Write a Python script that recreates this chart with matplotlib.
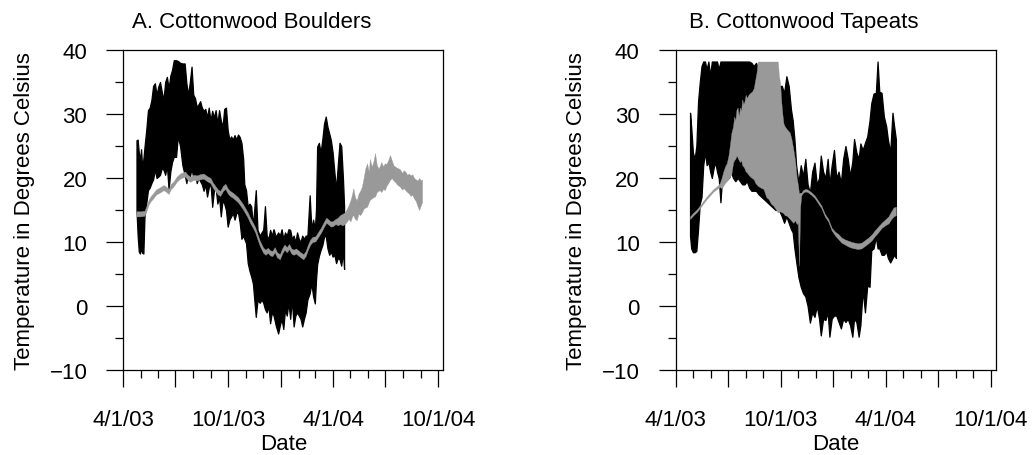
import numpy as np
import matplotlib
matplotlib.use("Agg")
import matplotlib.pyplot as plt
import matplotlib.dates as mdates

plt.rcParams['font.family'] = ['Liberation Sans', 'DejaVu Sans']

START = np.datetime64('2003-04-01')

# ---- A. Cottonwood Boulders -------------------------------------------
# air temperature envelope: day offset from 4/1/03, daily high, daily low
a_air_day = [23, 25, 27, 29, 31, 33, 35, 37, 40, 43, 46, 49, 52, 55, 58, 61, 64, 67, 70, 73,
             76, 79, 82, 85, 88, 92, 95, 99, 103, 107, 110, 113, 116, 119, 122, 125, 128, 131,
             134, 137, 140, 143, 146, 149, 152, 155, 158, 161, 164, 167, 170, 173, 176, 179,
             182, 185, 188, 191, 194, 197, 200, 203, 206, 209, 211, 214, 217, 220, 223, 226,
             231, 234, 238, 241, 244, 247, 250, 253, 256, 259, 262, 266, 270, 273, 276, 279,
             282, 285, 288, 291, 294, 297, 300, 303, 306, 309, 312, 315, 318, 321, 325, 328,
             331, 334, 336, 338, 341, 344, 347, 350, 353, 356, 359, 362, 365, 368, 371, 374,
             377, 380, 383, 385]
a_air_high = [25.9, 26.0, 24.0, 22.8, 24.5, 21.5, 23.0, 24.9, 27.5, 30.6, 31.0, 32.2, 34.4, 34.8,
              33.0, 34.3, 35.0, 33.5, 32.2, 35.0, 35.8, 34.0, 36.0, 36.9, 38.4, 38.4, 38.3, 38.0,
              37.9, 37.9, 34.8, 33.0, 35.0, 37.4, 33.0, 32.5, 31.1, 31.5, 32.0, 31.0, 30.5, 30.8,
              29.5, 31.0, 29.0, 30.5, 29.5, 30.6, 28.5, 30.6, 29.0, 28.0, 30.8, 31.0, 27.5, 26.0,
              26.5, 26.0, 26.7, 26.0, 26.8, 26.4, 25.5, 23.0, 19.0, 18.1, 15.5, 16.0, 15.6, 12.5,
              18.1, 11.9, 11.0, 11.5, 11.9, 15.6, 11.0, 10.5, 11.9, 11.0, 12.0, 10.8, 11.5, 11.0,
              12.0, 10.5, 11.5, 11.0, 12.0, 11.9, 10.5, 11.0, 10.0, 11.5, 10.5, 10.0, 11.0, 10.5,
              11.0, 11.0, 17.3, 12.0, 13.5, 12.0, 15.0, 24.9, 25.5, 24.0, 26.0, 28.5, 29.6, 28.0,
              27.0, 25.9, 24.0, 21.0, 18.3, 22.0, 25.5, 25.0, 20.0, 15.6]
a_air_low = [15.0, 11.0, 8.5, 8.2, 9.0, 8.3, 8.2, 14.0, 16.0, 18.1, 18.5, 19.2, 19.8, 21.3, 20.0,
             20.2, 20.5, 21.5, 21.3, 20.5, 22.0, 18.1, 21.0, 22.5, 23.3, 23.3, 26.5, 25.0, 22.0,
             20.5, 19.2, 21.0, 20.2, 21.5, 20.0, 21.0, 19.2, 20.0, 19.5, 19.0, 18.0, 19.0, 17.1,
             18.5, 19.2, 15.5, 18.0, 18.5, 16.0, 17.0, 14.0, 16.5, 16.0, 15.0, 12.4, 13.5, 14.0,
             14.5, 13.5, 14.5, 14.6, 13.0, 10.5, 11.0, 10.5, 9.8, 6.7, 5.5, 4.6, 3.5, -1.7, 0.9,
             0.5, 1.0, 0.5, -0.5, -1.0, 0.0, -2.7, -1.0, -1.5, -3.1, -4.3, -3.0, -2.0, -3.6,
             -0.5, -1.5, 0.5, -2.0, 1.0, -3.2, -1.5, -1.0, -1.5, -2.0, -3.2, -2.0, -1.0, 1.0,
             2.0, 3.5, 1.5, 0.4, 4.0, 6.5, 7.8, 8.75, 9.5, 10.8, 11.0, 9.0, 8.0, 8.5, 7.7, 8.0,
             6.7, 7.5, 7.3, 6.3, 8.5, 5.8]

# water temperature band: day offset, low, high
a_water_day = [23, 30, 37, 41, 44, 48, 52, 57, 61, 65, 70, 74, 79, 83, 87, 93, 99, 104, 108, 113,
               117, 122, 128, 134, 140, 146, 152, 156, 160, 165, 169, 174, 178, 182, 186, 191,
               195, 200, 204, 208, 212, 217, 221, 226, 230, 234, 238, 244, 248, 252, 256, 260,
               264, 268, 273, 277, 281, 285, 289, 293, 297, 301, 305, 309, 314, 318, 322, 326,
               330, 335, 340, 345, 350, 354, 358, 362, 366, 370, 374, 378, 382, 386, 390, 393,
               396, 399, 401, 404, 407, 410, 413, 416, 419, 422, 425, 428, 430, 433, 436, 439,
               442, 445, 447, 450, 453, 456, 459, 462, 465, 468, 471, 474, 477, 480, 483, 486,
               489, 492, 495, 498, 501, 504, 507, 510, 513, 516, 519, 521]
a_water_low = [14.0, 14.0, 14.1, 15.0, 15.8, 16.4, 16.8, 17.4, 17.6, 17.8, 18.1, 17.9, 17.5, 18.3,
               18.6, 19.4, 19.9, 20.1, 20.2, 19.6, 19.4, 19.7, 19.6, 19.8, 19.9, 19.5, 19.2, 18.5,
               18.0, 17.4, 17.2, 18.0, 18.3, 17.6, 17.2, 16.9, 16.6, 16.2, 15.7, 15.2, 14.6, 13.8,
               13.0, 12.2, 11.5, 10.4, 9.4, 8.3, 8.0, 8.3, 7.9, 7.8, 8.4, 7.6, 7.3, 8.2, 8.8, 8.4,
               8.9, 8.2, 8.0, 8.2, 7.9, 7.6, 7.3, 7.8, 8.8, 9.6, 10.0, 10.1, 10.8, 11.5, 12.4,
               13.0, 12.7, 12.4, 12.5, 12.8, 12.6, 12.8, 12.6, 12.8, 13.2, 13.6, 13.2, 14.0, 14.2,
               13.6, 13.4, 14.4, 14.2, 14.6, 15.2, 15.4, 15.5, 16.2, 16.6, 16.8, 17.0, 17.1, 17.8,
               18.0, 18.1, 17.8, 18.3, 18.1, 18.8, 19.2, 19.7, 20.0, 19.6, 19.4, 19.0, 18.8, 18.6,
               18.2, 18.4, 18.1, 17.8, 17.6, 17.2, 17.4, 16.8, 16.4, 15.6, 15.0, 15.8, 16.2]
a_water_high = [14.8, 14.8, 14.9, 15.8, 16.6, 17.2, 17.6, 18.2, 18.4, 18.6, 18.9, 18.7, 18.3, 19.1,
                19.4, 20.2, 20.7, 20.9, 21.0, 20.4, 20.2, 20.5, 20.4, 20.6, 20.7, 20.3, 20.0, 19.3,
                18.8, 18.2, 18.0, 18.8, 19.1, 18.4, 18.0, 17.7, 17.4, 17.0, 16.5, 16.0, 15.4, 14.6,
                13.8, 13.0, 12.3, 11.2, 10.2, 9.1, 8.8, 9.1, 8.7, 8.6, 9.2, 8.4, 8.1, 9.0, 9.6, 9.2,
                9.7, 9.0, 8.8, 9.0, 8.7, 8.4, 8.1, 8.6, 9.6, 10.4, 10.8, 10.9, 11.6, 12.3, 13.2,
                13.8, 13.5, 13.2, 13.3, 13.6, 13.8, 14.2, 14.4, 14.6, 15.2, 15.8, 16.5, 17.5, 18.4,
                17.0, 16.5, 17.5, 18.0, 18.6, 20.0, 21.5, 22.3, 21.0, 23.0, 21.8, 22.5, 23.9, 22.0,
                21.5, 21.8, 22.5, 21.8, 22.3, 22.2, 22.8, 23.6, 22.8, 22.0, 21.8, 21.6, 21.5, 21.3,
                20.8, 21.2, 21.0, 20.5, 20.7, 20.4, 20.6, 20.0, 19.8, 19.6, 20.0, 19.6, 19.8]

# ---- B. Cottonwood Tapeats --------------------------------------------
b_air_day = [25, 27, 30, 33, 36, 39, 42, 45, 48, 51, 54, 57, 60, 63, 66, 69, 72, 75, 78, 81, 84,
             87, 90, 93, 96, 100, 104, 108, 112, 116, 120, 124, 128, 132, 136, 140, 144, 150,
             156, 162, 168, 174, 180, 185, 189, 193, 197, 201, 204, 207, 210, 214, 218, 222,
             226, 230, 234, 238, 242, 246, 250, 253, 257, 261, 265, 268, 272, 276, 280, 284,
             288, 292, 296, 300, 304, 308, 311, 315, 319, 322, 326, 330, 334, 338, 341, 345,
             349, 352, 355, 359, 363, 367, 370, 374, 378, 381, 384]
b_air_high = [30.2, 28.0, 24.0, 23.0, 25.0, 32.0, 35.0, 37.5, 38.2, 38.2, 37.0, 38.2, 36.0, 38.2,
              38.2, 38.2, 38.2, 37.0, 38.2, 38.2, 38.2, 38.2, 38.2, 38.2, 38.2, 38.2, 38.2, 38.2,
              38.2, 38.2, 38.2, 38.2, 38.2, 38.0, 37.5, 38.0, 37.0, 36.0, 36.0, 35.0, 35.0, 34.0,
              34.4, 34.4, 33.3, 35.9, 34.4, 30.7, 29.0, 26.1, 22.0, 19.3, 22.0, 20.3, 23.0, 19.0,
              17.7, 21.0, 22.4, 19.0, 20.0, 23.5, 21.0, 20.0, 23.0, 19.0, 22.0, 24.4, 20.0, 21.0,
              19.2, 23.0, 25.0, 23.0, 20.3, 22.6, 26.1, 24.0, 23.0, 25.4, 24.4, 25.5, 26.5, 29.0,
              31.7, 33.2, 33.3, 38.2, 33.5, 33.3, 29.6, 28.1, 26.0, 24.0, 30.2, 28.0, 26.0]
b_air_low = [11.0, 9.0, 8.4, 8.4, 8.6, 12.0, 16.0, 17.0, 22.0, 24.0, 22.0, 22.5, 21.0, 20.0, 21.5,
             22.5, 21.0, 20.0, 16.2, 20.0, 19.5, 21.0, 20.0, 20.0, 21.0, 20.0, 19.5, 20.0, 19.5,
             19.0, 19.0, 19.5, 18.5, 18.0, 18.0, 18.0, 17.5, 17.0, 16.5, 16.0, 15.5, 15.0, 15.0,
             14.0, 13.0, 14.0, 13.0, 12.0, 11.5, 9.0, 7.0, 4.5, 3.0, 2.0, 1.5, 0.0, -2.6, -1.0,
             -1.7, 0.0, -2.0, -4.6, -2.0, -2.2, -1.0, -4.8, -2.0, -1.5, -1.5, -2.5, -3.5, -2.0,
             -2.5, -2.0, -3.0, -4.8, -2.0, -2.5, -4.8, -3.0, 2.5, -1.0, 3.2, 3.0, 8.7, 9.0, 10.8,
             9.0, 9.0, 8.0, 8.0, 8.5, 7.5, 6.8, 7.5, 8.0, 7.5]

b_water_day = [25, 31, 37, 43, 48, 54, 60, 66, 72, 77, 80, 83, 86, 89, 92, 95, 97, 100, 102, 104,
               106, 108, 110, 112, 114, 116, 118, 120, 122, 124, 127, 130, 133, 136, 139, 141,
               143, 148, 153, 158, 162, 166, 170, 174, 178, 180, 182, 184, 186, 188, 190, 194,
               199, 202, 205, 208, 211, 213, 215, 217, 219, 222, 226, 230, 236, 242, 248, 254,
               260, 266, 272, 278, 284, 289, 295, 301, 307, 312, 318, 324, 330, 336, 342, 347,
               353, 359, 365, 371, 376, 380, 384]
b_water_low = [13.6, 14.2, 14.7, 15.4, 16.0, 16.7, 17.3, 17.9, 18.3, 18.6, 18.4, 18.8, 19.2, 19.5,
               19.8, 20.3, 20.6, 22.4, 22.8, 23.0, 23.5, 23.2, 22.8, 22.5, 22.8, 22.0, 21.8, 21.5,
               21.0, 20.9, 20.5, 20.2, 20.0, 19.8, 19.2, 19.0, 18.8, 18.5, 18.3, 17.0, 16.7, 16.0,
               15.7, 15.2, 14.6, 14.7, 14.8, 14.7, 14.6, 14.5, 14.2, 14.1, 13.6, 13.3, 13.0, 13.4,
               12.8, 13.0, 6.3, 15.5, 17.3, 17.7, 17.9, 17.8, 17.4, 16.9, 16.1, 15.3, 14.0, 13.2,
               11.8, 11.0, 10.4, 9.9, 9.6, 9.3, 9.1, 9.0, 8.9, 9.0, 9.4, 9.8, 10.3, 10.9, 11.5,
               12.2, 12.6, 12.9, 13.6, 14.0, 14.2]
b_water_high = [14.0, 14.6, 15.1, 15.8, 16.4, 17.1, 17.7, 18.3, 18.7, 19.2, 20.0, 21.0, 21.8, 22.3,
                23.5, 25.5, 27.0, 28.1, 29.6, 29.0, 30.7, 31.0, 29.6, 31.0, 30.5, 32.3, 31.5, 32.0,
                33.0, 32.5, 33.0, 33.3, 33.5, 34.0, 35.5, 36.5, 38.2, 38.2, 38.2, 38.2, 38.2, 38.2,
                38.2, 38.2, 38.2, 36.0, 34.9, 32.0, 30.0, 28.5, 28.1, 27.6, 27.1, 26.0, 24.5, 22.8,
                20.0, 19.0, 17.6, 17.7, 17.7, 18.1, 18.3, 18.2, 17.8, 17.3, 16.5, 15.7, 14.4, 13.6,
                12.2, 11.6, 11.2, 10.7, 10.4, 10.2, 10.0, 9.9, 9.8, 9.9, 10.3, 10.7, 11.2, 11.8,
                12.4, 13.0, 13.5, 14.0, 14.8, 15.4, 15.5]

panels = [
    ("A. Cottonwood Boulders", a_air_day, a_air_low, a_air_high,
     a_water_day, a_water_low, a_water_high),
    ("B. Cottonwood Tapeats", b_air_day, b_air_low, b_air_high,
     b_water_day, b_water_low, b_water_high),
]

W, H = 1035, 456
fig = plt.figure(figsize=(W / 100, H / 100), dpi=100)
lefts = [123.3, 675.7]
FS = 16
GREY = '#999999'


def to_dates(days):
    return (START + np.array(days).astype('timedelta64[D]')).astype('datetime64[s]')


def fmt_date(x, pos=None):
    d = mdates.num2date(x)
    if d.month in (4, 10):
        return f"{d.month}/{d.day}/{d.year % 100:02d}"
    return ""


for left, (title, ad, alo, ahi, wd, wlo, whi) in zip(lefts, panels):
    ax = fig.add_axes([left / W, 85 / H, 320 / W, 320 / H])
    ax.fill_between(to_dates(ad), alo, ahi, color='black', linewidth=0.9,
                    edgecolor='black', zorder=2)
    ax.fill_between(to_dates(wd), wlo, whi, color=GREY, linewidth=0.25,
                    edgecolor=GREY, zorder=3)

    x0 = START.astype('datetime64[s]')
    x1 = (START + np.timedelta64(558, 'D')).astype('datetime64[s]')
    ax.set_xlim(x0, x1)
    ax.set_ylim(-10, 40)

    ax.set_yticks(np.arange(-10, 41, 10))
    ax.set_yticks(np.arange(-5, 40, 10), minor=True)
    ax.xaxis.set_major_locator(mdates.MonthLocator(bymonth=[1, 4, 7, 10]))
    ax.xaxis.set_minor_locator(mdates.MonthLocator())
    ax.xaxis.set_major_formatter(plt.FuncFormatter(fmt_date))

    ax.tick_params(axis='both', which='major', length=11.9, width=0.9,
                   labelsize=FS, direction='out', color='black')
    ax.tick_params(axis='both', which='minor', length=6.0, width=0.9,
                   direction='out', color='black')
    ax.tick_params(axis='y', which='major', pad=14)
    ax.tick_params(axis='x', which='major', pad=16)
    for sp in ax.spines.values():
        sp.set_linewidth(0.9)
        sp.set_color('black')

    ax.text(0.40, 1.088, title, transform=ax.transAxes, ha='center', va='center',
            fontsize=FS)
    ax.text(0.5, -0.247, "Date", transform=ax.transAxes, ha='center', va='baseline',
            fontsize=FS)
    ax.text(-0.31, 0.5, "Temperature in Degrees Celsius", transform=ax.transAxes,
            ha='center', va='center', rotation=90, fontsize=FS)

fig.savefig("out.png", dpi=100)
